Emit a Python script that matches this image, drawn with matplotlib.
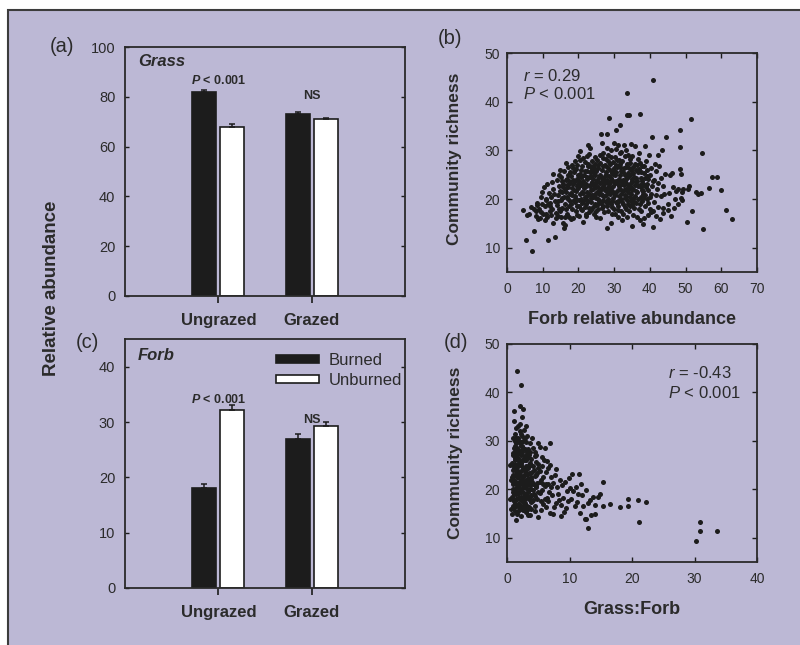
import matplotlib.pyplot as plt
from matplotlib.patches import Rectangle
import numpy as np

plt.rcParams['font.family'] = ['Liberation Sans', 'DejaVu Sans']
plt.rcParams['mathtext.fontset'] = 'custom'
plt.rcParams['mathtext.rm'] = 'Liberation Sans'
plt.rcParams['mathtext.it'] = 'Liberation Sans:italic'
plt.rcParams['mathtext.bf'] = 'Liberation Sans:bold'
plt.rcParams['mathtext.bfit'] = 'Liberation Sans:bold:italic'

# --- Données des barres (moyenne et erreur standard) ---
groups = ['Ungrazed', 'Grazed']
grass_burned = [82.0, 73.1]
grass_burned_se = [0.6, 1.0]
grass_unburned = [68.0, 70.9]
grass_unburned_se = [1.0, 0.7]
forb_burned = [18.0, 26.9]
forb_burned_se = [0.8, 0.9]
forb_unburned = [32.1, 29.2]
forb_unburned_se = [0.9, 0.8]

# --- Nuage (b) : abondance relative des forbes vs richesse ---
forb_pts = [
    (4.6, 17.8), (5.7, 16.7), (5.4, 11.5), (7.0, 9.4), (7.6, 13.4), (6.2, 17.0), (7.5, 18.0), (8.0, 16.5), (8.2, 17.5), (6.8, 18.3),
    (8.5, 19.2), (9.0, 18.0), (9.3, 16.0), (9.6, 17.4), (9.9, 19.0), (8.8, 15.8), (9.4, 20.4), (10.0, 17.0), (8.3, 18.8), (9.8, 21.5),
    (10.3, 22.5), (10.5, 18.5), (10.8, 17.0), (11.0, 20.0), (11.2, 16.2), (11.5, 19.0), (11.8, 21.2), (10.6, 15.6), (11.9, 17.6),
    (11.6, 11.5), (11.3, 23.0), (12.0, 18.5), (10.9, 19.8),
    (12.2, 20.5), (12.4, 16.8), (12.6, 18.0), (12.8, 22.0), (13.0, 25.1), (13.0, 15.1), (13.3, 12.1), (13.5, 19.5), (13.8, 17.2),
    (12.5, 23.5), (13.2, 21.0), (13.9, 24.0), (12.1, 19.2), (13.6, 16.0),
    (14.1, 18.8), (14.3, 20.8), (14.5, 22.6), (14.8, 17.5), (15.0, 19.8), (15.2, 24.5), (15.4, 21.5), (15.6, 15.1), (15.9, 14.0),
    (15.0, 16.3), (14.6, 25.0), (15.8, 23.0), (14.2, 16.6), (15.5, 18.2), (14.9, 26.0), (15.3, 20.2),
    (14.4, 19.6), (14.8, 21.6), (15.2, 18.0), (15.6, 22.4), (16.0, 20.4), (16.4, 18.0), (16.8, 24.2), (15.4, 23.8), (16.2, 16.4),
    (14.6, 18.0),
    (16.1, 19.0), (16.3, 22.0), (16.5, 24.0), (16.7, 17.0), (16.9, 20.5), (17.1, 26.5), (17.3, 18.5), (17.5, 23.2), (17.7, 21.0),
    (17.9, 15.8), (16.4, 27.5), (17.0, 25.0), (16.2, 14.6), (17.6, 19.5), (16.8, 22.8), (17.4, 16.4), (17.8, 24.8), (16.6, 21.4),
    (17.2, 20.0), (16.0, 25.8),
    (17.2, 22.4), (17.6, 25.6), (18.0, 19.0), (18.4, 24.0), (18.8, 21.8), (19.2, 26.2), (19.6, 18.6), (20.0, 22.2), (17.4, 23.8),
    (18.2, 27.0), (19.0, 20.6), (19.8, 23.0),
    (18.1, 18.0), (18.3, 20.8), (18.5, 23.0), (18.7, 25.5), (18.9, 27.8), (19.1, 19.4), (19.3, 21.6), (19.5, 16.8), (19.7, 24.2),
    (19.9, 28.8), (20.3, 29.8), (18.2, 22.2), (18.4, 16.0), (18.6, 26.4), (18.8, 19.8), (19.0, 23.8), (19.2, 17.6), (19.4, 20.0),
    (19.6, 22.6), (19.8, 25.0), (18.0, 21.2), (19.5, 27.0),
    (20.1, 18.5), (20.3, 21.0), (20.5, 23.5), (20.7, 26.0), (20.9, 19.2), (21.1, 24.8), (21.3, 15.2), (21.5, 22.2), (21.7, 27.6),
    (21.9, 20.4), (20.2, 16.5), (20.4, 25.2), (20.6, 20.0), (20.8, 22.8), (21.0, 17.8), (21.2, 28.4), (21.4, 19.6), (21.6, 23.0),
    (21.8, 25.8), (20.0, 24.0), (21.0, 21.5), (20.5, 28.0), (22.0, 17.0),
    (20.2, 19.8), (20.6, 24.6), (21.0, 26.8), (21.4, 21.2), (21.8, 18.4), (22.2, 22.6), (22.6, 27.2), (23.0, 21.0), (20.4, 22.8),
    (20.8, 18.0), (21.2, 23.6), (21.6, 25.0), (22.0, 20.0), (22.4, 24.6), (22.8, 19.6), (23.2, 26.8),
    (22.1, 19.0), (22.3, 21.5), (22.5, 24.2), (22.7, 26.8), (22.8, 31.0), (23.1, 30.5), (22.9, 18.2), (23.1, 22.6), (23.3, 25.5),
    (23.5, 20.2), (23.7, 27.8), (23.9, 23.4), (22.2, 16.6), (22.4, 28.8), (22.6, 20.8), (23.0, 17.4), (23.2, 24.6), (23.4, 19.4),
    (23.6, 21.8), (23.8, 26.2), (22.0, 23.0), (23.0, 29.2), (24.0, 18.4), (22.5, 25.8),
    (23.4, 23.0), (23.8, 20.8), (24.2, 25.6), (24.6, 19.0), (25.0, 22.4), (25.4, 27.0), (25.8, 21.0), (23.6, 24.8), (24.0, 22.0),
    (24.4, 26.4), (24.8, 20.2), (25.2, 24.0), (25.6, 19.0), (26.0, 23.2), (23.5, 17.8), (24.9, 17.6),
    (24.1, 20.5), (24.3, 22.8), (24.5, 25.0), (24.7, 27.2), (24.9, 18.8), (25.1, 21.4), (25.3, 23.8), (25.5, 26.4), (25.7, 19.6),
    (25.9, 29.0), (24.2, 24.2), (24.4, 17.0), (24.6, 21.0), (24.8, 23.2), (25.0, 25.8), (25.2, 28.0), (25.4, 20.0), (25.6, 22.4),
    (25.8, 24.6), (24.0, 26.8), (25.0, 16.4), (24.5, 28.6), (26.0, 21.8), (25.5, 18.0),
    (26.3, 33.3), (26.0, 16.1), (26.2, 19.2), (26.4, 22.0), (26.6, 24.4), (26.8, 26.8), (27.0, 29.5), (27.2, 20.6), (27.4, 23.2),
    (27.6, 25.6), (27.8, 28.2), (26.1, 27.4), (26.5, 18.2), (26.7, 20.8), (26.9, 23.8), (27.1, 17.4), (27.3, 21.8), (27.5, 24.8),
    (27.7, 19.4), (27.9, 30.4), (26.0, 25.0), (27.0, 22.6), (28.0, 18.6), (26.6, 31.5), (27.4, 27.0),
    (26.2, 21.0), (26.6, 26.0), (27.0, 19.8), (27.4, 22.0), (27.8, 25.0), (28.2, 21.4), (28.6, 23.0), (29.0, 25.8), (26.4, 23.4),
    (26.8, 18.6), (27.2, 24.0), (27.6, 20.8), (28.0, 26.6), (28.4, 19.4), (28.8, 22.0), (29.2, 24.4), (26.9, 28.4), (28.3, 27.8),
    (28.1, 33.3), (28.6, 36.6), (27.9, 14.1), (29.1, 15.1), (28.2, 20.0), (28.4, 22.4), (28.6, 24.8), (28.8, 27.2), (29.0, 30.0),
    (29.2, 19.0), (29.4, 21.6), (29.6, 23.8), (29.8, 26.0), (28.3, 17.6), (28.5, 26.2), (28.7, 21.0), (28.9, 23.4), (29.1, 28.6),
    (29.3, 17.0), (29.5, 25.4), (29.7, 20.2), (29.9, 31.6), (28.0, 24.0), (29.0, 22.2), (30.0, 18.0), (28.4, 29.0), (29.6, 27.6),
    (29.4, 19.6), (29.8, 22.6), (30.2, 25.0), (30.6, 19.4), (31.0, 23.0), (31.4, 20.6), (31.8, 25.8), (29.6, 25.2), (30.0, 21.2),
    (30.4, 23.8), (30.8, 26.6), (31.2, 19.6), (31.6, 22.0), (32.0, 21.0), (30.2, 28.6), (31.6, 27.2), (29.5, 18.4), (31.0, 17.8),
    (30.5, 34.2), (31.5, 35.2), (30.1, 20.8), (30.3, 23.2), (30.5, 25.6), (30.7, 28.0), (30.9, 19.2), (31.1, 21.8), (31.3, 24.2),
    (31.5, 26.6), (31.7, 29.4), (31.9, 17.6), (30.2, 17.0), (30.4, 27.0), (30.6, 21.4), (30.8, 23.8), (31.0, 31.0), (31.2, 18.6),
    (31.4, 22.6), (31.6, 25.0), (31.8, 20.0), (30.0, 26.4), (31.0, 16.2), (32.0, 23.6), (32.1, 15.6), (30.6, 30.2), (31.4, 28.0),
    (32.2, 23.0), (32.6, 25.6), (33.0, 20.8), (33.4, 24.2), (33.8, 22.0), (34.2, 26.4), (34.6, 21.0), (35.0, 23.6), (32.4, 19.0),
    (32.8, 21.8), (33.2, 26.6), (33.6, 19.8), (34.0, 24.6), (34.4, 18.6), (34.8, 22.4), (35.2, 20.0), (33.0, 18.4), (34.4, 28.2),
    (32.2, 19.4), (32.4, 21.6), (32.6, 24.0), (32.8, 26.4), (33.0, 28.8), (33.2, 18.0), (33.4, 20.6), (33.6, 23.0), (33.8, 25.4),
    (32.3, 27.8), (32.5, 17.0), (32.7, 22.8), (32.9, 20.2), (33.1, 25.0), (33.3, 30.0), (33.5, 16.4), (33.7, 27.2), (33.9, 21.4),
    (32.0, 29.6), (33.0, 23.6), (34.0, 19.0), (33.6, 41.7), (33.5, 37.2), (34.2, 37.2), (32.8, 31.0), (33.2, 22.0),
    (34.1, 22.6), (34.3, 25.0), (34.5, 27.4), (34.7, 19.6), (34.9, 21.8), (35.1, 24.2), (35.3, 26.6), (35.5, 18.2), (35.7, 30.9),
    (35.1, 14.4), (34.2, 17.6), (34.4, 20.4), (34.6, 23.2), (34.8, 26.0), (35.0, 28.8), (35.2, 16.8), (35.4, 22.0), (35.6, 24.6),
    (35.8, 20.6), (34.0, 29.0), (35.0, 18.8), (36.0, 23.4), (34.6, 31.4), (35.9, 27.2),
    (35.4, 25.4), (35.8, 22.8), (36.2, 24.4), (36.6, 20.0), (37.0, 26.2), (37.4, 22.4), (37.8, 23.6), (38.2, 20.2), (38.6, 24.4),
    (35.6, 19.4), (36.0, 21.6), (36.4, 27.0), (36.8, 22.6), (37.2, 19.0), (37.6, 25.6), (38.0, 21.6), (38.4, 26.8), (38.8, 22.8),
    (39.2, 24.8),
    (36.2, 19.2), (36.4, 21.4), (36.6, 25.6), (36.8, 28.2), (37.0, 18.0), (37.2, 22.8), (37.4, 20.4), (37.6, 24.4), (37.8, 26.8),
    (36.3, 16.2), (36.5, 23.6), (36.9, 29.4), (37.1, 15.6), (37.3, 27.4), (37.5, 17.6), (37.7, 21.8), (37.1, 37.4), (38.0, 14.8),
    (38.5, 30.9), (36.0, 26.0), (37.9, 19.6), (38.2, 23.0),
    (38.1, 21.0), (38.4, 25.4), (38.6, 18.6), (38.8, 27.8), (39.0, 22.4), (39.2, 20.0), (39.4, 16.8), (39.6, 24.2), (39.8, 29.0),
    (38.3, 16.0), (38.7, 20.8), (39.1, 26.0), (39.5, 21.8), (39.9, 18.0), (39.3, 23.0), (40.0, 25.0),
    (40.0, 20.4), (40.6, 22.6), (41.2, 24.0), (41.8, 20.8), (42.4, 23.2), (39.6, 19.2), (40.4, 26.4), (41.0, 17.6),
    (40.7, 32.7), (40.8, 44.4), (41.0, 14.3), (40.4, 21.0), (40.8, 23.6), (41.2, 19.4), (41.6, 25.8), (42.0, 22.0), (42.2, 29.0),
    (43.4, 30.0), (42.4, 18.4), (42.8, 15.8), (43.0, 24.4), (43.2, 20.6), (43.7, 18.2), (43.7, 17.2), (41.4, 27.2), (41.8, 16.6),
    (43.8, 22.6), (42.6, 26.8), (40.2, 17.4), (44.0, 21.0), (44.4, 32.8), (44.2, 25.2),
    (45.6, 24.9), (46.3, 25.3), (45.0, 19.0), (45.4, 21.2), (46.0, 16.6), (46.6, 22.4), (47.0, 20.0), (47.4, 21.6), (47.8, 19.0),
    (48.3, 34.1), (48.3, 30.6), (48.4, 26.1), (48.7, 25.1), (48.0, 22.0), (48.6, 20.2), (49.0, 21.4), (49.4, 22.0), (49.0, 19.8),
    (50.3, 15.3), (50.8, 22.0), (51.0, 22.7), (45.2, 17.8), (46.8, 18.2),
    (51.4, 36.4), (51.7, 17.5), (52.9, 21.4), (54.4, 21.3), (54.5, 29.5), (55.0, 13.9), (56.6, 22.2), (57.3, 24.6), (58.8, 24.6),
    (59.8, 21.8), (61.2, 17.8), (63.1, 15.9), (53.5, 21.0),
]

# --- Nuage (d) : rapport graminées:forbes vs richesse ---
ratio_pts = [
    (0.5, 18.0), (0.6, 22.0), (0.5, 25.0), (0.6, 16.0),
    (0.8, 15.0), (1.4, 13.7), (1.1, 36.2), (1.1, 34.0), (1.4, 32.6), (0.9, 16.2), (1.0, 18.0), (1.0, 20.0), (1.1, 22.0), (1.2, 24.0),
    (1.2, 26.0), (1.3, 28.0), (1.3, 30.0), (1.0, 25.0), (1.1, 19.0), (1.4, 21.0), (1.5, 23.0), (1.2, 17.0), (1.5, 27.0), (1.4, 29.5),
    (0.9, 21.5), (1.3, 15.5), (1.5, 19.5), (1.0, 30.5), (0.9, 27.0), (1.2, 31.5), (1.0, 23.0), (1.3, 25.0), (1.4, 18.0),
    (0.8, 18.5), (0.8, 22.5), (0.8, 25.5), (0.9, 19.5), (0.9, 24.0), (1.0, 16.5), (1.0, 21.0), (1.0, 27.5), (1.1, 17.5), (1.1, 24.5),
    (1.1, 28.5), (1.2, 19.5), (1.2, 21.5), (1.2, 29.0), (1.3, 17.0), (1.3, 20.0), (1.3, 23.0), (1.3, 26.5), (1.4, 19.0), (1.4, 24.5),
    (1.4, 27.0), (1.5, 16.5), (1.5, 21.5), (1.5, 25.0), (1.5, 30.5), (1.6, 18.0), (1.6, 22.5), (1.6, 26.5),
    (1.65, 44.4), (2.3, 41.5), (2.1, 37.1), (2.6, 36.6), (2.4, 34.9), (1.6, 15.0), (1.7, 17.0), (1.8, 19.0), (1.9, 21.0), (2.0, 23.0),
    (2.1, 25.0), (2.2, 27.0), (2.3, 29.0), (2.4, 31.0), (1.6, 24.0), (1.7, 26.0), (1.8, 28.0), (1.9, 30.0), (2.0, 32.0), (2.1, 18.0),
    (2.2, 20.0), (2.3, 22.0), (2.4, 24.0), (2.5, 26.0), (1.6, 20.5), (1.8, 22.5), (2.0, 16.0), (2.2, 14.5), (2.4, 17.5), (2.5, 19.5),
    (1.7, 33.0), (2.0, 27.5), (2.3, 25.5), (1.9, 18.2), (2.1, 21.8), (1.8, 24.8), (2.2, 29.8), (1.6, 28.6), (2.4, 27.6), (2.0, 19.4),
    (1.7, 15.5), (1.7, 19.5), (1.7, 23.5), (1.7, 28.0), (1.8, 16.5), (1.8, 20.5), (1.8, 26.5), (1.8, 30.5), (1.9, 17.0), (1.9, 23.0),
    (1.9, 25.5), (1.9, 27.5), (2.0, 18.0), (2.0, 21.0), (2.0, 25.0), (2.0, 29.5), (2.1, 16.5), (2.1, 23.5), (2.1, 28.0), (2.1, 33.5),
    (2.2, 18.5), (2.2, 22.0), (2.2, 25.0), (2.3, 16.0), (2.3, 19.5), (2.3, 27.5), (2.3, 31.5), (2.4, 21.0), (2.4, 26.0), (2.4, 29.0),
    (2.5, 16.5), (2.5, 22.5), (2.5, 28.5), (2.6, 18.0), (2.6, 24.5), (2.6, 30.0),
    (3.0, 33.1), (2.6, 15.8), (2.7, 18.6), (2.8, 21.4), (2.9, 24.2), (3.0, 27.0), (3.1, 29.8), (3.2, 16.6), (3.3, 19.4), (3.4, 22.2),
    (3.5, 25.0), (2.6, 28.4), (2.7, 23.0), (2.8, 26.0), (2.9, 17.2), (3.0, 20.2), (3.1, 23.6), (3.2, 31.0), (3.3, 26.6), (3.4, 14.6),
    (3.5, 18.0), (2.8, 30.6), (3.0, 22.0), (3.2, 20.8), (3.4, 28.4), (2.6, 21.0), (3.1, 15.4), (2.7, 32.2), (3.3, 24.4), (2.9, 19.0),
    (2.7, 16.8), (2.7, 20.4), (2.7, 26.4), (2.8, 18.0), (2.8, 23.8), (2.8, 28.4), (2.9, 21.8), (2.9, 26.8), (3.0, 16.2), (3.0, 18.8),
    (3.0, 24.8), (3.1, 21.0), (3.1, 26.0), (3.2, 18.6), (3.2, 23.0), (3.2, 27.8), (3.3, 16.0), (3.3, 21.6), (3.4, 19.8), (3.4, 24.6),
    (3.5, 16.4), (3.5, 21.4), (3.5, 27.0), (3.6, 18.4), (3.6, 23.4), (3.7, 20.8), (3.7, 25.4), (3.8, 18.8), (3.8, 22.2), (3.9, 20.0),
    (3.9, 25.0), (4.0, 17.6), (4.0, 23.6),
    (3.6, 20.0), (3.7, 23.4), (3.8, 26.2), (3.9, 17.4), (4.0, 21.6), (4.1, 24.8), (4.2, 28.6), (4.3, 19.0), (4.4, 22.8), (4.5, 15.6),
    (4.6, 25.6), (4.7, 20.6), (4.8, 18.0), (4.9, 29.5), (5.0, 14.3), (3.6, 29.6), (3.8, 16.0), (4.0, 30.6), (4.2, 17.8), (4.4, 26.8),
    (4.6, 23.0), (4.8, 21.4), (3.7, 27.6), (4.1, 19.8), (4.5, 27.8), (3.9, 22.6), (4.3, 24.0), (4.9, 24.4), (3.6, 14.8),
    (4.2, 21.0), (4.4, 18.6), (4.6, 20.4), (4.8, 23.4), (5.0, 19.4), (5.2, 21.6), (5.4, 17.6), (5.6, 19.8), (5.8, 22.6), (6.0, 18.0),
    (6.2, 21.0), (6.6, 17.6), (7.0, 20.4), (4.4, 16.6), (5.0, 25.2), (5.6, 26.6), (6.4, 25.8), (4.7, 27.0), (5.3, 23.8),
    (5.2, 28.8), (5.2, 19.2), (5.4, 22.0), (5.6, 24.8), (5.8, 17.0), (6.0, 20.6), (6.2, 23.6), (6.4, 18.2), (6.6, 21.2), (6.8, 25.0),
    (6.1, 28.6), (6.9, 29.6), (5.5, 15.8), (5.9, 26.0), (6.3, 16.4), (6.7, 19.4), (7.0, 22.6), (6.9, 15.2), (7.3, 15.0), (5.7, 21.0),
    (6.5, 24.4),
    (7.2, 18.8), (7.4, 21.4), (7.6, 23.0), (7.8, 17.2), (8.0, 20.4), (8.2, 19.0), (8.4, 22.0), (8.7, 14.5), (8.6, 16.8), (8.8, 20.8),
    (9.0, 18.2), (9.2, 21.6), (9.4, 16.2), (9.6, 19.6), (9.8, 17.6), (10.0, 20.2), (7.5, 16.4), (8.3, 17.8), (9.1, 15.4), (9.9, 22.4),
    (10.4, 23.2), (7.9, 24.2),
    (10.2, 18.0), (10.6, 19.6), (10.8, 16.6), (11.0, 20.4), (11.2, 17.4), (11.5, 23.2), (11.6, 15.2), (11.9, 21.2), (12.0, 18.8),
    (12.4, 13.9), (12.7, 13.9), (12.9, 12.1), (12.2, 16.6), (12.6, 19.8), (11.4, 19.0), (13.0, 17.2),
    (13.3, 17.8), (13.5, 14.6), (13.7, 18.5), (14.1, 14.9), (14.5, 18.5), (14.9, 19.0), (15.4, 21.6), (15.4, 16.6), (16.5, 17.0),
    (18.1, 16.4), (19.3, 16.6), (19.4, 18.1), (20.9, 17.7), (21.1, 13.2), (22.3, 17.4), (14.0, 16.8),
    (30.2, 9.3), (30.9, 11.3), (30.9, 13.3), (33.6, 11.3),
]

bg = '#BCB8D5'
ink = '#1c1c1c'
txt = '#2b2b2b'

fig = plt.figure(figsize=(8, 6.45), dpi=100, facecolor='white')
# cadre lavande (bord visible en haut et à gauche seulement)
fig.add_artist(Rectangle((8 / 800, -0.1), 1.2, 1.1 - 10 / 645, transform=fig.transFigure,
                         facecolor=bg, edgecolor='#3c3c3c', linewidth=1.5, zorder=-10))


def px(x, y):
    return x / 800, 1 - y / 645


ax_a = fig.add_axes([0.15625, 0.5411, 0.35, 0.386], facecolor='none')
ax_c = fig.add_axes([0.15625, 0.0884, 0.35, 0.386], facecolor='none')
ax_b = fig.add_axes([0.63375, 0.5783, 0.3125, 0.3395], facecolor='none')
ax_d = fig.add_axes([0.63375, 0.1287, 0.3125, 0.338], facecolor='none')

pos = np.arange(1, len(groups) + 1)
bar_sets = [
    (ax_a, grass_burned, grass_burned_se, grass_unburned, grass_unburned_se, 100, 20, 'Grass', 94.3, 86.4, 80.3),
    (ax_c, forb_burned, forb_burned_se, forb_unburned, forb_unburned_se, 45, 10, 'Forb', 42.1, 34.0, 30.4),
]

for ax, b, b_se, u, u_se, ymax, step, name, name_y, p_y, ns_y in bar_sets:
    ax.bar(pos - 0.15, b, 0.26, color=ink, edgecolor=ink, linewidth=1.2, label='Burned', zorder=2)
    ax.bar(pos + 0.15, u, 0.26, color='white', edgecolor=ink, linewidth=1.2, label='Unburned', zorder=2)
    ax.errorbar(pos - 0.15, b, yerr=[np.zeros(len(b)), b_se], fmt='none', ecolor=ink,
                elinewidth=1.1, capsize=2.5, capthick=1.1, zorder=3)
    ax.errorbar(pos + 0.15, u, yerr=[np.zeros(len(u)), u_se], fmt='none', ecolor=ink,
                elinewidth=1.1, capsize=2.5, capthick=1.1, zorder=3)
    ax.set_xlim(0, 3)
    ax.set_ylim(0, ymax)
    ax.set_xticks(pos)
    ax.set_xticklabels(groups, fontweight='bold', fontsize=12, color=txt)
    ax.set_yticks(np.arange(0, ymax + 1, step))
    ax.tick_params(axis='x', direction='out', length=5, width=1.2, pad=7, color=ink)
    ax.tick_params(axis='y', direction='in', length=3, width=1, left=True, right=True,
                   labelsize=10.5, labelcolor=txt, pad=7, color=ink)
    for s in ax.spines.values():
        s.set_linewidth(1.3)
        s.set_color('#2a2a2a')
    ax.text(0.14, name_y, name, fontweight='bold', style='italic', fontsize=12, color=txt, va='center')
    ax.text(pos[0], p_y, r'$\mathbfit{P}$ < 0.001', fontweight='bold', fontsize=9, color=txt,
            ha='center', va='center')
    ax.text(pos[1], ns_y, 'NS', fontweight='bold', fontsize=9, color=txt, ha='center', va='center')

ax_c.legend(loc='upper left', bbox_to_anchor=(0.54, 0.945), frameon=False, fontsize=12,
            handlelength=2.55, handleheight=0.4, handletextpad=0.6, labelspacing=0.3,
            borderpad=0, borderaxespad=0, labelcolor=txt)

# nuages de points
scatter_sets = [
    (ax_b, forb_pts, 70, r'$\mathit{r}$ = 0.29', (0.064, 0.895), (0.064, 0.813)),
    (ax_d, ratio_pts, 40, r'$\mathit{r}$ = -0.43', (0.644, 0.867), (0.644, 0.775)),
]
for ax, pts, xmax, r_txt, r_pos, p_pos in scatter_sets:
    xs = [p[0] for p in pts]
    ys = [p[1] for p in pts]
    ax.scatter(xs, ys, s=13, color=ink, linewidths=0, zorder=2)
    ax.set_xlim(0, xmax)
    ax.set_ylim(5, 50)
    ax.set_xticks(np.arange(0, xmax + 1, 10))
    ax.set_yticks(np.arange(10, 51, 10))
    ax.tick_params(direction='in', length=3.5, width=1, top=True, right=True, color=ink,
                   labelsize=10, labelcolor=txt)
    ax.tick_params(axis='x', pad=7)
    ax.tick_params(axis='y', pad=5)
    for s in ax.spines.values():
        s.set_linewidth(1.3)
        s.set_color('#2a2a2a')
    ax.text(*r_pos, r_txt, transform=ax.transAxes, fontsize=12, color=txt, va='center')
    ax.text(*p_pos, r'$\mathit{P}$ < 0.001', transform=ax.transAxes, fontsize=12, color=txt, va='center')

# étiquettes des axes et des panneaux
fig.text(*px(52, 288), 'Relative abundance', rotation=90, fontweight='bold', fontsize=13.5,
         color=txt, ha='center', va='center')
fig.text(*px(455, 159), 'Community richness', rotation=90, fontweight='bold', fontsize=12.5,
         color=txt, ha='center', va='center')
fig.text(*px(456, 453), 'Community richness', rotation=90, fontweight='bold', fontsize=12.5,
         color=txt, ha='center', va='center')
fig.text(*px(632, 320), 'Forb relative abundance', fontweight='bold', fontsize=13,
         color=txt, ha='center', va='center')
fig.text(*px(632, 610), 'Grass:Forb', fontweight='bold', fontsize=13,
         color=txt, ha='center', va='center')
for lab, x, y in [('(a)', 62, 46), ('(b)', 450, 38), ('(c)', 87, 343), ('(d)', 456, 343)]:
    fig.text(*px(x, y), lab, fontsize=14.5, color=txt, ha='center', va='center')

fig.savefig('out.png', dpi=100, facecolor='white')
